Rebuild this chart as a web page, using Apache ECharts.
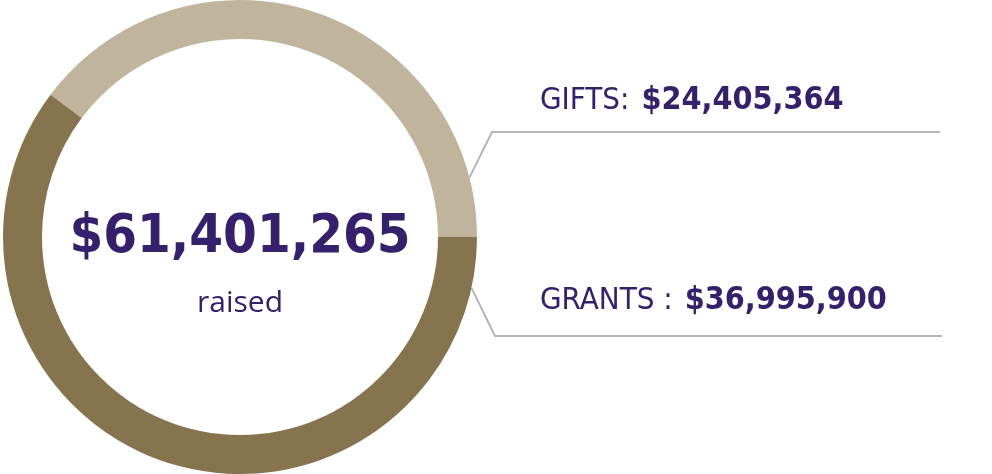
<!DOCTYPE html>
<html>
<head>
<meta charset="utf-8">
<script src="https://cdn.jsdelivr.net/npm/echarts@6/dist/echarts.min.js"></script>
<style>
  html, body { margin: 0; padding: 0; background: #fff; }
  #donut { width: 992px; height: 474px; }
</style>
</head>
<body>
<div id="donut"></div>
<script>
// values
var categories = ['GIFTS:', 'GRANTS :'];
var amounts = [24405364, 36995900];
var totalRaised = 61401265;
var totalCaption = 'raised';

var sliceColors = ['#c0b49d', '#85744e'];
var textPurple = '#35206b';
var narrow = '"DejaVu Sans Condensed", "Liberation Sans Narrow", sans-serif';

function money(v) {
  return '$' + String(v).replace(/\B(?=(\d{3})+(?!\d))/g, ',');
}

// ring geometry + where the leader lines sit
var cx = 240, cy = 237, rOut = 237, rIn = 198;
var anchorDeg = [14.5, -12.4];
var elbows = [[492, 132], [495, 336]];
var lineEndX = [940, 942];
var labelY = [101, 301];

var chart = echarts.init(document.getElementById('donut'));

chart.setOption({
  animation: false,
  title: [
    {
      text: money(totalRaised),
      left: cx,
      top: 211,
      padding: 0,
      textAlign: 'center',
      textStyle: {
        fontFamily: narrow,
        fontWeight: 'bold',
        fontSize: 54,
        color: textPurple
      }
    },
    {
      text: totalCaption,
      left: cx,
      top: 288,
      padding: 0,
      textAlign: 'center',
      textStyle: {
        fontFamily: '"Open Sans", "Noto Sans", sans-serif',
        fontWeight: 'normal',
        fontSize: 30,
        color: textPurple
      }
    }
  ],
  series: [{
    type: 'pie',
    center: [cx, cy],
    radius: [rIn, rOut],
    startAngle: 0,
    clockwise: false,
    silent: true,
    color: sliceColors,
    itemStyle: { borderWidth: 0 },
    emphasis: { disabled: true },
    label: {
      show: true,
      position: 'outside',
      overflow: 'none',
      formatter: function (p) {
        return '{n|' + p.name + '}{v|' + money(p.value) + '}';
      },
      rich: {
        n: {
          fontFamily: narrow,
          fontSize: 31,
          color: textPurple,
          lineHeight: 40
        },
        v: {
          fontFamily: narrow,
          fontWeight: 'bold',
          fontSize: 32,
          color: textPurple,
          lineHeight: 40,
          padding: [0, 0, 0, 12]
        }
      }
    },
    labelLine: {
      show: true,
      lineStyle: { color: '#b4b4b9', width: 2 }
    },
    labelLayout: function (params) {
      var i = params.dataIndex;
      var a = anchorDeg[i] * Math.PI / 180;
      return {
        x: 540,
        y: labelY[i],
        width: 420,
        align: 'left',
        verticalAlign: 'middle',
        labelLinePoints: [
          [cx + rOut * Math.cos(a), cy - rOut * Math.sin(a)],
          elbows[i],
          [lineEndX[i], elbows[i][1]]
        ]
      };
    },
    data: categories.map(function (c, i) {
      return { name: c, value: amounts[i] };
    })
  }]
});
</script>
</body>
</html>
